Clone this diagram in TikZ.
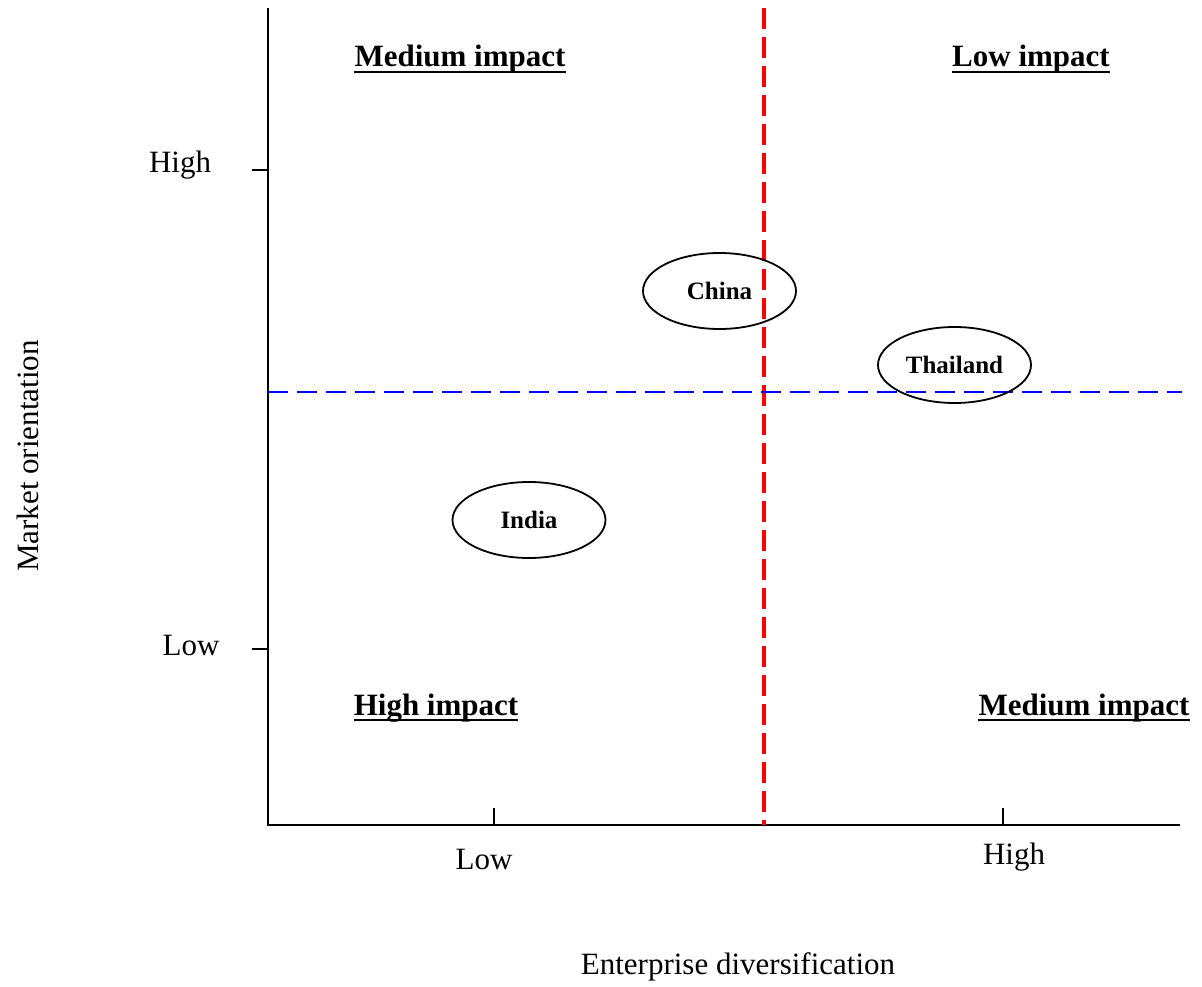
\documentclass[tikz,border=0pt]{standalone}
\usepackage{fontspec}
\setmainfont{Liberation Serif}
\usetikzlibrary{shapes.geometric}
\begin{document}
\begin{tikzpicture}[x=1pt,y=-1pt,
  axis/.style={line width=2.4pt,black},
  tickmark/.style={line width=2pt,black},
  ticklabel/.style={font=\fontsize{31}{36}\selectfont,inner sep=0pt},
  axistitle/.style={font=\fontsize{31}{36}\selectfont,inner sep=0pt},
  quadlabel/.style={font=\fontsize{31}{36}\selectfont\bfseries,inner sep=0pt,anchor=base},
  uline/.style={line width=2.6pt,black},
  country/.style={ellipse,draw,line width=1.8pt,minimum width=153pt,minimum height=76pt,
    inner sep=0pt,font=\fontsize{25}{30}\selectfont\bfseries},
  reddash/.style={line width=3.6pt,red,dash pattern=on 21pt off 8pt},
  bluedash/.style={line width=1.8pt,blue,dash pattern=on 20pt off 9pt}]
\useasboundingbox (0,0) rectangle (1202,987);

% axes
\coordinate (o) at (268,825);
\coordinate (ytop) at (268,8);
\coordinate (xend) at (1180,825);
\draw[axis] (ytop) -- (o) -- (xend);

% ticks
\coordinate (yhi) at (268,170);
\coordinate (ylo) at (268,649);
\coordinate (xlo) at (494,825);
\coordinate (xhi) at (1003,825);
\draw[tickmark] (yhi) -- ++(-16,0);
\draw[tickmark] (ylo) -- ++(-16,0);
\draw[tickmark] (xlo) -- ++(0,-17);
\draw[tickmark] (xhi) -- ++(0,-17);

% tick labels
\node[ticklabel] (lyhi) at (180,165) {High};
\node[ticklabel] (lylo) at (191,645) {Low};
\node[ticklabel] (lxlo) at (484,859) {Low};
\node[ticklabel] (lxhi) at (1014,857) {High};

% axis titles
\node[axistitle,rotate=90] (ytitle) at (28,456) {Market orientation};
\node[axistitle] (xtitle) at (738,967) {Enterprise diversification};

% quadrant dividers
\coordinate (rtop) at (764,8);
\coordinate (rbot) at (764,825);
\draw[reddash] (rtop) -- (rbot);
\coordinate (bl) at (268,392);
\coordinate (br) at (1182,392);
\draw[bluedash] (bl) -- (br);

% quadrant labels
\node[quadlabel] (q1) at (460,67) {Medium impact};
\node[quadlabel] (q2) at (1031,67) {Low impact};
\node[quadlabel] (q3) at (436,715) {High impact};
\node[quadlabel] (q4) at (1084,715) {Medium impact};
\foreach \q in {q1,q2,q3,q4}
  \draw[uline] ([yshift=-5pt]\q.base west) -- ([yshift=-5pt]\q.base east);

% countries
\node[country] (china) at (719.5,291) {China};
\node[country] (thai) at (954.5,365) {Thailand};
\node[country] (india) at (529,520) {India};
\end{tikzpicture}
\end{document}
